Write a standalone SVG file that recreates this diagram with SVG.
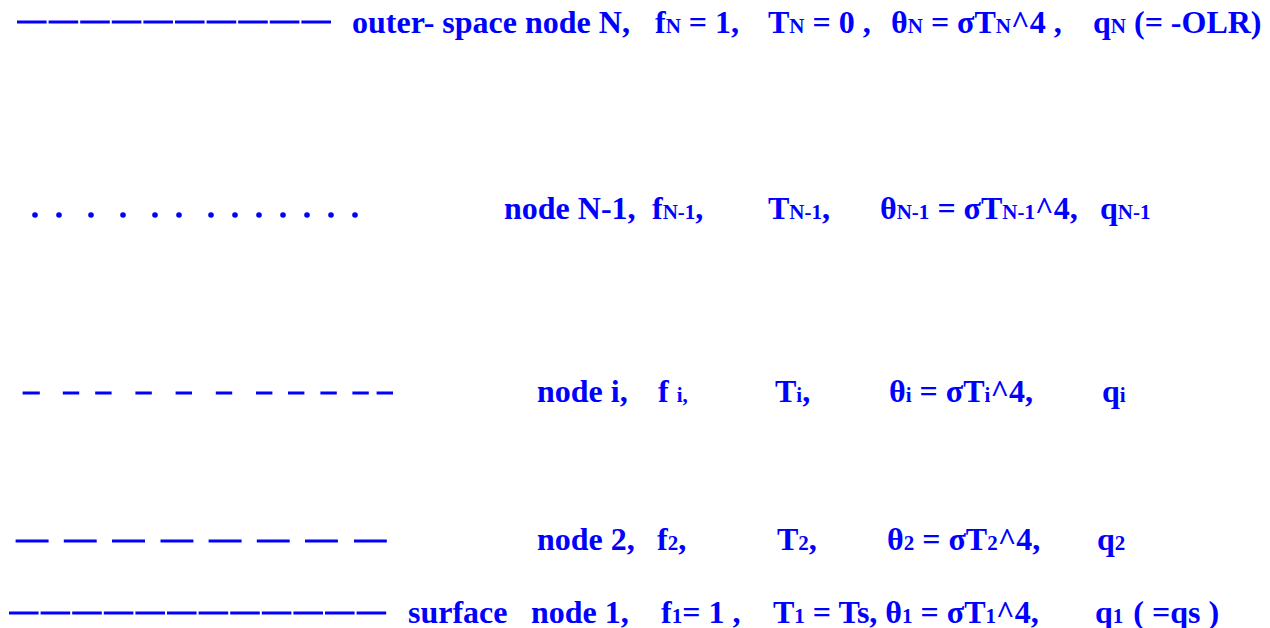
<svg xmlns="http://www.w3.org/2000/svg" width="1270" height="628" viewBox="0 0 1270 628">
<style>
text{font-family:"Liberation Serif","Times New Roman",serif;font-weight:bold;font-size:32px;fill:#0000ff;}
.s{font-size:21px;}
.ln{stroke:#0000ff;stroke-width:3;fill:none;}
.dot{fill:#0000ff;}
</style>
<rect width="1270" height="628" fill="#ffffff"/>
<g id="connectors">
<line class="ln" x1="17" y1="22" x2="333" y2="22" stroke-dasharray="29.6 2"/>
<g id="dots-row">
<circle class="dot" cx="35" cy="215" r="2.8"/><circle class="dot" cx="59" cy="215" r="2.8"/><circle class="dot" cx="91" cy="215" r="2.8"/><circle class="dot" cx="123" cy="215" r="2.8"/><circle class="dot" cx="155" cy="215" r="2.8"/><circle class="dot" cx="179" cy="215" r="2.8"/><circle class="dot" cx="211" cy="215" r="2.8"/><circle class="dot" cx="235" cy="215" r="2.8"/><circle class="dot" cx="259" cy="215" r="2.8"/><circle class="dot" cx="283" cy="215" r="2.8"/><circle class="dot" cx="307" cy="215" r="2.8"/><circle class="dot" cx="331" cy="215" r="2.8"/><circle class="dot" cx="355" cy="215" r="2.8"/>
</g>
<path class="ln" stroke-width="2.5" d="M22.6 393H39.8M62.8 393H79.2M95.2 393H111.6M135.4 393H151.8M175.6 393H192M215.8 393H232.2M256 393H272.4M288 393H304.4M320.4 393H336.8M352.4 393H368.8M376.6 393H393"/>
<path class="ln" stroke-width="2.5" d="M15.6 541H48.6M63.8 541H96.7M112 541H145M160.5 541H193.4M208.6 541H241.6M256.8 541H289.7M305 541H337.9M354 541H386.8"/>
<line class="ln" x1="9" y1="613" x2="388" y2="613" stroke-dasharray="29.6 2"/>
</g>
<g id="node-N">
<text x="352" y="33">outer- space node N,</text>
<text x="655" y="33">f<tspan class="s">N</tspan> = 1,</text>
<text x="768" y="33">T<tspan class="s">N</tspan> = 0 ,</text>
<text x="891" y="33">θ<tspan class="s">N</tspan> = σT<tspan class="s">N</tspan>^4 ,</text>
<text x="1093" y="33">q<tspan class="s">N</tspan> (= -OLR)</text>
</g>
<g id="node-N-1">
<text x="504" y="219">node N-1,</text>
<text x="652" y="219">f<tspan class="s">N-1</tspan>,</text>
<text x="768" y="219">T<tspan class="s">N-1</tspan>,</text>
<text x="880" y="219">θ<tspan class="s">N-1</tspan> = σT<tspan class="s">N-1</tspan>^4,</text>
<text x="1100" y="219">q<tspan class="s">N-1</tspan></text>
</g>
<g id="node-i">
<text x="537" y="402">node i,</text>
<text x="658" y="402">f <tspan class="s">i,</tspan></text>
<text x="775" y="402">T<tspan class="s">i</tspan>,</text>
<text x="889" y="402">θ<tspan class="s">i</tspan> = σT<tspan class="s">i</tspan>^4,</text>
<text x="1102" y="402">q<tspan class="s">i</tspan></text>
</g>
<g id="node-2">
<text x="537" y="550">node 2,</text>
<text x="657" y="550">f<tspan class="s">2</tspan>,</text>
<text x="777" y="550">T<tspan class="s">2</tspan>,</text>
<text x="887" y="550">θ<tspan class="s">2</tspan> = σT<tspan class="s">2</tspan>^4,</text>
<text x="1097" y="550">q<tspan class="s">2</tspan></text>
</g>
<g id="node-1">
<text x="408" y="623">surface</text>
<text x="531" y="623">node 1,</text>
<text x="661" y="623">f<tspan class="s">1</tspan>= 1 ,</text>
<text x="773" y="623">T<tspan class="s">1</tspan> = Ts, θ<tspan class="s">1</tspan> = σT<tspan class="s">1</tspan>^4,</text>
<text x="1095" y="623">q<tspan class="s">1</tspan> <tspan dx="2">( =qs )</tspan></text>
</g>
</svg>
